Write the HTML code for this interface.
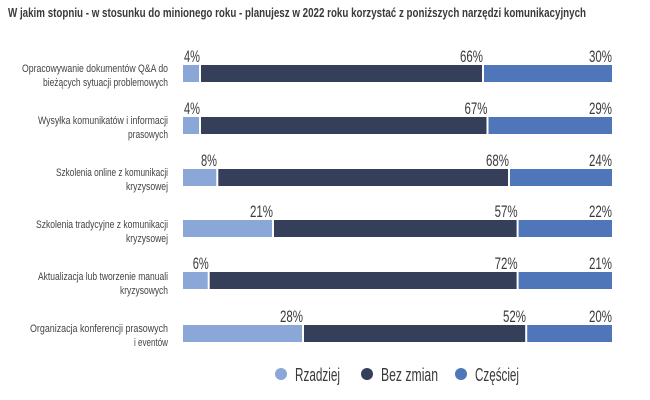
<!DOCTYPE html>
<html><head><meta charset="utf-8"><style>body{margin:0;background:#fff}svg{display:block}</style></head><body>
<svg width="650" height="400" xmlns="http://www.w3.org/2000/svg" font-family="Liberation Sans, sans-serif">
<text x="8" y="17" font-size="12.5" font-weight="bold" fill="#3a3a3a" textLength="578" lengthAdjust="spacingAndGlyphs">W jakim stopniu - w stosunku do minionego roku - planujesz w 2022 roku korzystać z poniższych narzędzi komunikacyjnych</text>
<g font-size="11" fill="#444" text-anchor="end">
<text x="168" y="72" textLength="146" lengthAdjust="spacingAndGlyphs">Opracowywanie dokumentów Q&amp;A do</text>
<text x="168" y="86" textLength="125" lengthAdjust="spacingAndGlyphs">bieżących sytuacji problemowych</text>
<text x="168" y="124" textLength="130" lengthAdjust="spacingAndGlyphs">Wysyłka komunikatów i informacji</text>
<text x="168" y="138" textLength="40" lengthAdjust="spacingAndGlyphs">prasowych</text>
<text x="168" y="176" textLength="112" lengthAdjust="spacingAndGlyphs">Szkolenia online z komunikacji</text>
<text x="168" y="190" textLength="42" lengthAdjust="spacingAndGlyphs">kryzysowej</text>
<text x="168" y="228" textLength="132" lengthAdjust="spacingAndGlyphs">Szkolenia tradycyjne z komunikacji</text>
<text x="168" y="242" textLength="42" lengthAdjust="spacingAndGlyphs">kryzysowej</text>
<text x="168" y="280" textLength="130" lengthAdjust="spacingAndGlyphs">Aktualizacja lub tworzenie manuali</text>
<text x="168" y="294" textLength="48" lengthAdjust="spacingAndGlyphs">kryzysowych</text>
<text x="168" y="332" textLength="138" lengthAdjust="spacingAndGlyphs">Organizacja konferencji prasowych</text>
<text x="168" y="346" textLength="34" lengthAdjust="spacingAndGlyphs">i eventów</text>
</g>
<g>
<rect x="183" y="65" width="16" height="17" fill="#8ba7d8"/><rect x="201" y="65" width="281" height="17" fill="#353f5a"/><rect x="484" y="65" width="128" height="17" fill="#4f76b8"/>
<rect x="183" y="117" width="16" height="17" fill="#8ba7d8"/><rect x="201" y="117" width="285.5" height="17" fill="#353f5a"/><rect x="488.5" y="117" width="123.5" height="17" fill="#4f76b8"/>
<rect x="183" y="169" width="33.3" height="17" fill="#8ba7d8"/><rect x="218.3" y="169" width="289.7" height="17" fill="#353f5a"/><rect x="510" y="169" width="102" height="17" fill="#4f76b8"/>
<rect x="183" y="220" width="89" height="17" fill="#8ba7d8"/><rect x="274" y="220" width="242.6" height="17" fill="#353f5a"/><rect x="518.6" y="220" width="93.4" height="17" fill="#4f76b8"/>
<rect x="183" y="272" width="24.7" height="17" fill="#8ba7d8"/><rect x="209.7" y="272" width="306.9" height="17" fill="#353f5a"/><rect x="518.6" y="272" width="93.4" height="17" fill="#4f76b8"/>
<rect x="183" y="325" width="119" height="17" fill="#8ba7d8"/><rect x="304" y="325" width="221.2" height="17" fill="#353f5a"/><rect x="527.2" y="325" width="84.8" height="17" fill="#4f76b8"/>
</g>
<g font-size="17" fill="#3a3a3a" text-anchor="end">
<text x="200" y="62" textLength="16" lengthAdjust="spacingAndGlyphs">4%</text><text x="483" y="62" textLength="23" lengthAdjust="spacingAndGlyphs">66%</text><text x="612" y="62" textLength="23" lengthAdjust="spacingAndGlyphs">30%</text>
<text x="200" y="114" textLength="16" lengthAdjust="spacingAndGlyphs">4%</text><text x="487.5" y="114" textLength="23" lengthAdjust="spacingAndGlyphs">67%</text><text x="612" y="114" textLength="23" lengthAdjust="spacingAndGlyphs">29%</text>
<text x="217" y="166" textLength="16" lengthAdjust="spacingAndGlyphs">8%</text><text x="509" y="166" textLength="23" lengthAdjust="spacingAndGlyphs">68%</text><text x="612" y="166" textLength="23" lengthAdjust="spacingAndGlyphs">24%</text>
<text x="273" y="217" textLength="23" lengthAdjust="spacingAndGlyphs">21%</text><text x="517.6" y="217" textLength="23" lengthAdjust="spacingAndGlyphs">57%</text><text x="612" y="217" textLength="23" lengthAdjust="spacingAndGlyphs">22%</text>
<text x="208.7" y="269" textLength="16" lengthAdjust="spacingAndGlyphs">6%</text><text x="517.6" y="269" textLength="23" lengthAdjust="spacingAndGlyphs">72%</text><text x="612" y="269" textLength="23" lengthAdjust="spacingAndGlyphs">21%</text>
<text x="303" y="322" textLength="23" lengthAdjust="spacingAndGlyphs">28%</text><text x="526" y="322" textLength="23" lengthAdjust="spacingAndGlyphs">52%</text><text x="612" y="322" textLength="23" lengthAdjust="spacingAndGlyphs">20%</text>
</g>
<g font-size="18" fill="#3a3a3a">
<circle cx="281" cy="374" r="6" fill="#8ba7d8"/><text x="295" y="381" textLength="45" lengthAdjust="spacingAndGlyphs">Rzadziej</text>
<circle cx="367" cy="374" r="6" fill="#353f5a"/><text x="381" y="381" textLength="57" lengthAdjust="spacingAndGlyphs">Bez zmian</text>
<circle cx="461" cy="374" r="6" fill="#4f76b8"/><text x="475" y="381" textLength="44" lengthAdjust="spacingAndGlyphs">Częściej</text>
</g>
</svg>
</body></html>
